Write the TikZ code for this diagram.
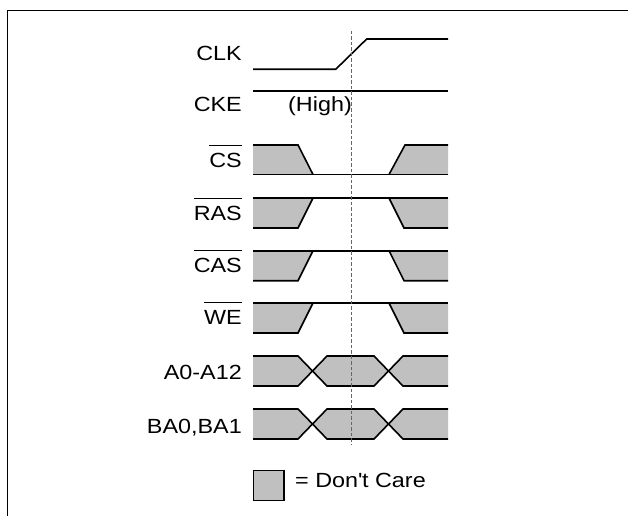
\documentclass[tikz,border=0pt]{standalone}
\usepackage{fontspec}
\setmainfont{Liberation Sans}[FakeStretch=1.14]
\definecolor{dcgray}{RGB}{192,192,192}
\newcommand{\ovl}[1]{\leavevmode\setbox0=\hbox{#1}\rlap{\raisebox{21.5pt}{\rule{\wd0}{0.9pt}}}\box0}
\begin{document}
\begin{tikzpicture}[x=1pt,y=-1pt,
  wave/.style={line width=1.6pt, line join=miter},
  shade/.style={fill=dcgray},
  lbl/.style={font=\fontsize{20.5}{24}\selectfont, inner sep=0pt, anchor=base east},
  guide/.style={draw=black!60, line width=1pt, dash pattern=on 3.5pt off 2pt},
  frame/.style={line width=1.3pt}]
\useasboundingbox (0,0) rectangle (628,516);
\fill[white] (0,0) rectangle (628,516);
\draw[frame] (7.3,516) -- (7.3,10.7) -- (628,10.7);

% labels
\node[lbl] (lclk) at (242,60.7) {CLK};
\node[lbl] (lcke) at (242,111.5) {CKE};
\node[lbl] (lcs) at (242,167) {\ovl{CS}};
\node[lbl] (lras) at (242,220) {\ovl{RAS}};
\node[lbl] (lcas) at (242,272) {\ovl{CAS}};
\node[lbl] (lwe) at (242,324.5) {\ovl{WE}};
\node[lbl] (la) at (242,379.5) {A0-A12};
\node[lbl] (lba) at (242,433) {BA0,BA1};

% CLK
\draw[wave] (253,69.3) -- (335.7,69.3) -- (366.7,39) -- (448,39);
% CKE
\draw[wave] (253,91.3) -- (448,91.3);
\node[lbl, anchor=base west] (high) at (288,111.5) {(High)};

% CS
\fill[shade] (253,145) -- (298,145) -- (313,174.5) -- (253,174.5) -- cycle;
\fill[shade] (389,174.5) -- (405,145) -- (448,145) -- (448,174.5) -- cycle;
\draw[wave] (253,145) -- (298,145) -- (313,174.5);
\draw[wave] (253,174.5) -- (448,174.5);
\draw[wave] (389,174.5) -- (405,145) -- (448,145);

% RAS, CAS, WE
\foreach \t in {198,250.7,303}{
  \pgfmathsetmacro\b{\t+30}
  \fill[shade] (253,\t) -- (313,\t) -- (298,\b) -- (253,\b) -- cycle;
  \fill[shade] (389,\t) -- (448,\t) -- (448,\b) -- (404,\b) -- cycle;
  \draw[wave] (253,\t) -- (448,\t);
  \draw[wave] (253,\b) -- (298,\b) -- (313,\t);
  \draw[wave] (389,\t) -- (404,\b) -- (448,\b);
}

% address / bank buses
\foreach \t in {356,409}{
  \pgfmathsetmacro\b{\t+30}
  \pgfmathsetmacro\m{\t+15}
  \fill[shade] (253,\t) -- (298,\t) -- (312.5,\m) -- (298,\b) -- (253,\b) -- cycle;
  \fill[shade] (312.5,\m) -- (327,\t) -- (374,\t) -- (388.5,\m) -- (374,\b) -- (327,\b) -- cycle;
  \fill[shade] (388.5,\m) -- (403,\t) -- (448,\t) -- (448,\b) -- (403,\b) -- cycle;
  \draw[wave] (253,\t) -- (298,\t) -- (327,\b) -- (374,\b) -- (403,\t) -- (448,\t);
  \draw[wave] (253,\b) -- (298,\b) -- (327,\t) -- (374,\t) -- (403,\b) -- (448,\b);
}

% guide line
\draw[guide] (351,31) -- (351,444);

% legend
\node[draw, fill=dcgray, line width=1.3pt, minimum width=30.6pt, minimum height=30pt, inner sep=0pt, anchor=north west] (legbox) at (252.7,470) {};
\node[lbl, anchor=base west] (legtxt) at (295,487.3) {= Don\textquotesingle t Care};
\end{tikzpicture}
\end{document}
